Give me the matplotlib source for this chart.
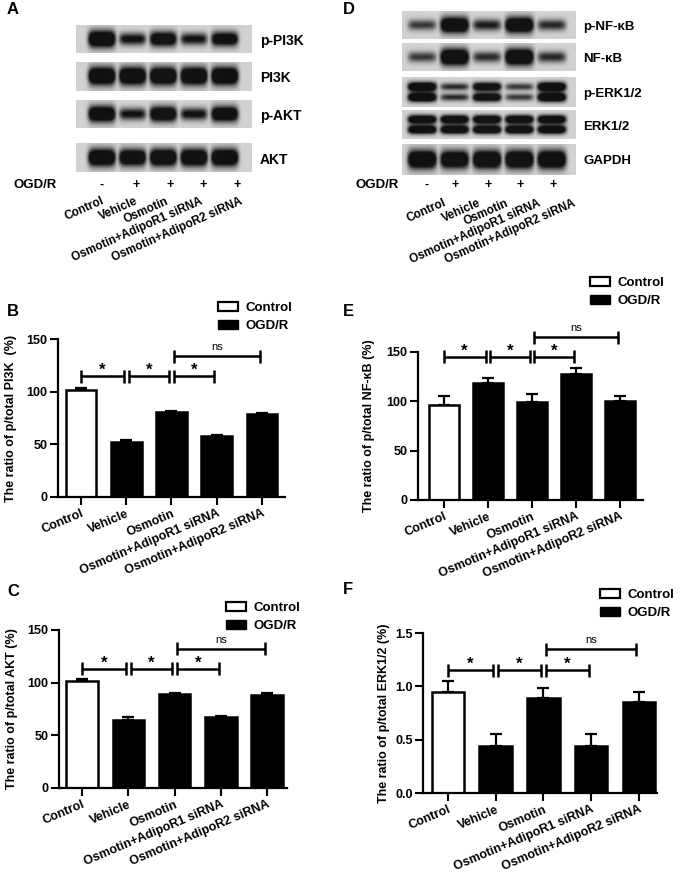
import numpy as np
import matplotlib
matplotlib.use('Agg')
import matplotlib.pyplot as plt
from matplotlib.patches import Patch

plt.rcParams['font.family'] = ['Liberation Sans', 'DejaVu Sans']
plt.rcParams['font.weight'] = 'bold'

W, H = 680, 883

groups = ['Control', 'Vehicle', 'Osmotin', 'Osmotin+AdipoR1 siRNA', 'Osmotin+AdipoR2 siRNA']
ogd_signs = ['-', '+', '+', '+', '+']
is_ogd = [False, True, True, True, True]

# bar chart values (mean, upper error)
pi3k_mean = [101.6, 52.0, 80.3, 57.8, 78.4]
pi3k_err = [1.9, 2.0, 1.3, 1.2, 1.3]
akt_mean = [101.7, 64.7, 89.0, 67.3, 88.4]
akt_err = [1.9, 3.0, 1.6, 1.5, 1.6]
nfkb_mean = [96.7, 118.7, 99.0, 127.8, 100.4]
nfkb_err = [8.3, 5.3, 8.9, 6.0, 4.6]
erk_mean = [0.951, 0.439, 0.888, 0.439, 0.857]
erk_err = [0.100, 0.110, 0.100, 0.110, 0.088]

# western blot band strengths per lane
blot_a_names = ['p-PI3K', 'PI3K', 'p-AKT', 'AKT']
blot_a = [[1.0, 0.62, 0.85, 0.6, 0.8],
          [1.0, 1.0, 1.0, 1.0, 1.0],
          [0.95, 0.6, 0.9, 0.62, 0.9],
          [1.0, 0.95, 1.0, 1.0, 1.0]]
blot_d_names = ['p-NF-κB', 'NF-κB', 'p-ERK1/2', 'ERK1/2', 'GAPDH']
blot_d = [[0.45, 0.95, 0.55, 0.95, 0.5],
          [0.45, 1.0, 0.5, 1.0, 0.5],
          [1.0, 0.5, 0.9, 0.45, 1.0],
          [0.95, 0.95, 0.95, 0.95, 0.95],
          [1.0, 0.95, 1.0, 1.0, 1.0]]
blot_d_doublet = [False, False, True, True, False]

fig = plt.figure(figsize=(W / 100, H / 100), dpi=100)


def px_axes(x0, y0, x1, y1):
    return fig.add_axes([x0 / W, 1 - y1 / H, (x1 - x0) / W, (y1 - y0) / H])


def band_row(intens, doublet, lanes, bw, nx=240, ny=40):
    x = np.linspace(0, 1, nx)
    y = np.linspace(0, 1, ny)
    X, Y = np.meshgrid(x, y)
    dark = np.zeros_like(X)
    for c, v in zip(lanes, intens):
        hx = np.exp(-((X - c) / (bw / 2)) ** 6)
        if doublet:
            s = 0.1 + 0.05 * v
            hy = np.exp(-((Y - 0.32) / s) ** 2) + np.exp(-((Y - 0.68) / s) ** 2)
        else:
            hy = np.exp(-((Y - 0.5) / (0.1 + 0.2 * v)) ** 2)
        dark = np.maximum(dark, v * hx * hy)
    bg = 0.84 - 0.04 * np.abs(X - 0.5)
    return bg - 0.76 * np.clip(dark * 1.8, 0, 1)


def blot(x0, x1, rows, names, data, doublets, lane_px, label_x, fs):
    lanes = [(p - x0) / (x1 - x0) for p in lane_px]
    bw = 0.88 * (lane_px[1] - lane_px[0]) / (x1 - x0)
    for (y0, y1), name, vals, dbl in zip(rows, names, data, doublets):
        ax = px_axes(x0, y0, x1, y1)
        ax.imshow(band_row(vals, dbl, lanes, bw), cmap='gray', vmin=0, vmax=1,
                  aspect='auto', extent=(0, 1, 1, 0))
        ax.axis('off')
        fig.text(label_x / W, 1 - ((y0 + y1) / 2 + 2) / H, name, fontsize=fs,
                 fontweight='bold', va='center', ha='left')


def lane_labels(x_ogd, sign_px, name_px, sign_y, name_y):
    fig.text(x_ogd / W, 1 - sign_y / H, 'OGD/R', fontsize=9.5, fontweight='bold',
             va='center', ha='left')
    for sx, s in zip(sign_px, ogd_signs):
        fig.text(sx / W, 1 - sign_y / H, s, fontsize=9, fontweight='bold',
                 va='center', ha='center')
    for nx, n in zip(name_px, groups):
        fig.text(nx / W, 1 - name_y / H, n, fontsize=8.5, fontweight='bold',
                 rotation=24, rotation_mode='anchor', ha='right', va='top')


# panel A blot
blot(76, 252, [(25, 53), (62, 91), (100, 128), (143, 172)], blot_a_names, blot_a,
     [False] * 4, [101.7, 132.5, 163.3, 194.1, 225], 260, 10)
lane_labels(13, [102, 136, 170, 203, 237], [101, 135, 165, 200, 240], 185, 195)

# panel D blot
blot(402, 576, [(11, 39), (43, 71), (77, 107), (110, 139), (144, 175)], blot_d_names,
     blot_d, blot_d_doublet, [422, 454.5, 487, 519.5, 552], 583, 9.5)
lane_labels(355, [427, 455, 488, 520, 553], [443, 478, 505, 538, 573], 185, 197)


def bar_panel(rect, means, errs, ymax, yticks, ylabel, lab_x, xlim, sig, leg_xy, fmt):
    ax = px_axes(*rect)
    x = np.arange(len(groups))
    colors = ['black' if o else 'white' for o in is_ogd]
    ax.errorbar(x, means, yerr=[np.zeros(len(x)), errs], fmt='none', ecolor='black',
                elinewidth=1.6, capsize=4.5, capthick=1.6, zorder=1)
    ax.bar(x, means, width=0.68, color=colors, edgecolor='black', linewidth=1.8, zorder=2)
    ax.set_xlim(*xlim)
    ax.set_ylim(0, ymax)
    for s in ['top', 'right']:
        ax.spines[s].set_visible(False)
    for s in ['left', 'bottom']:
        ax.spines[s].set_linewidth(1.6)
    ax.set_xticks(x)
    ax.set_xticklabels(groups, rotation=23, ha='right', rotation_mode='anchor',
                       fontsize=9, fontweight='bold')
    ax.set_yticks(yticks)
    ax.set_yticklabels([fmt.format(t) for t in yticks], fontsize=9, fontweight='bold')
    ax.tick_params(direction='out', length=5.5, width=1.5, pad=2)
    ax.set_ylabel(ylabel, fontsize=9, fontweight='bold')
    ax.yaxis.set_label_coords(lab_x, 0.5)
    per_px = ymax / (rect[3] - rect[1])
    cap = 6.5 * per_px
    for i, j, yv, lab in sig:
        l = i + (0.05 if i > 0 else 0)
        r = j - 0.05
        kw = dict(color='black', lw=1.8, clip_on=False, solid_capstyle='butt')
        ax.plot([l, r], [yv, yv], **kw)
        ax.plot([l, l], [yv - cap, yv + cap], **kw)
        ax.plot([r, r], [yv - cap, yv + cap], **kw)
        if lab == '*':
            ax.text((l + r) / 2, yv + 6 * per_px, '*', fontsize=12, fontweight='bold',
                    ha='center', va='center', clip_on=False)
        else:
            ax.text((l + r) / 2, yv + 9 * per_px, lab, fontsize=8, fontweight='normal',
                    ha='center', va='center', clip_on=False)
    handles = [Patch(facecolor='white', edgecolor='black', linewidth=1.6, label='Control'),
               Patch(facecolor='black', edgecolor='black', label='OGD/R')]
    ax.legend(handles=handles, loc='upper left', bbox_to_anchor=(leg_xy[0] / W, 1 - leg_xy[1] / H),
              bbox_transform=fig.transFigure, frameon=False, handlelength=1.5,
              handleheight=0.7, labelspacing=0.4, borderaxespad=0, borderpad=0,
              handletextpad=0.6, prop={'weight': 'bold', 'size': 9.5})
    return ax


bar_panel((58, 339, 285, 497), pi3k_mean, pi3k_err, 150, [0, 50, 100, 150],
          'The ratio of p/total PI3K  (%)', -0.18, (-0.51, 4.51),
          [(0, 1, 114.4, '*'), (1, 2, 114.4, '*'), (2, 3, 114.4, '*'), (2, 4, 133.4, 'ns')],
          (218, 302), '{:g}')
bar_panel((418, 352, 643, 500), nfkb_mean, nfkb_err, 150, [0, 50, 100, 150],
          'The ratio of p/total NF-κB (%)', -0.19, (-0.58, 4.52),
          [(0, 1, 145, '*'), (1, 2, 145, '*'), (2, 3, 145, '*'), (2, 4, 165, 'ns')],
          (590, 277), '{:g}')
bar_panel((59, 630, 287, 788), akt_mean, akt_err, 150, [0, 50, 100, 150],
          'The ratio of p/total AKT (%)', -0.18, (-0.5, 4.43),
          [(0, 1, 113, '*'), (1, 2, 113, '*'), (2, 3, 113, '*'), (2, 4, 132, 'ns')],
          (226, 602), '{:g}')
bar_panel((423, 633, 657, 793), erk_mean, erk_err, 1.5, [0, 0.5, 1.0, 1.5],
          'The ratio of p/total ERK1/2 (%)', -0.14, (-0.52, 4.38),
          [(0, 1, 1.152, '*'), (1, 2, 1.152, '*'), (2, 3, 1.152, '*'), (2, 4, 1.347, 'ns')],
          (600, 589), '{:.1f}')

for letter, lx, ly in [('A', 7, 10), ('D', 343, 10), ('B', 7, 311), ('E', 343, 311),
                       ('C', 7, 591), ('F', 343, 590)]:
    fig.text(lx / W, 1 - ly / H, letter, fontsize=12, fontweight='bold', va='center', ha='left')

fig.savefig('out.png', dpi=100, facecolor='white')
